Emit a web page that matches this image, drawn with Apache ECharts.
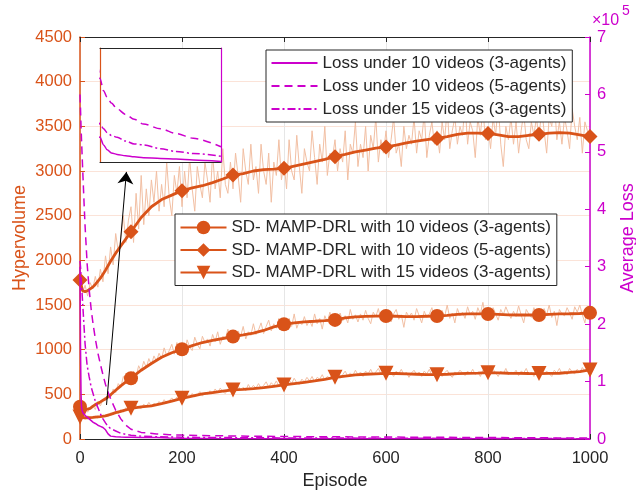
<!DOCTYPE html>
<html><head><meta charset="utf-8">
<script src="https://cdn.jsdelivr.net/npm/echarts@6/dist/echarts.min.js"></script>
<style>html,body{margin:0;padding:0;background:#fff}#c{width:636px;height:491px}</style>
</head><body><div id="c"></div><script>
// ---------- data ----------
const xTicks = [0, 200, 400, 600, 800, 1000];
const hvTicks = [0, 500, 1000, 1500, 2000, 2500, 3000, 3500, 4000, 4500];
const lossTicks = [0, 1, 2, 3, 4, 5, 6, 7];

const nameHv3_10 = 'SD- MAMP-DRL with 10 videos (3-agents)';
const nameHv5_10 = 'SD- MAMP-DRL with 10 videos (5-agents)';
const nameHv3_15 = 'SD- MAMP-DRL with 15 videos (3-agents)';
const nameLoss3_10 = 'Loss under 10 videos (3-agents)';
const nameLoss5_10 = 'Loss under 10 videos (5-agents)';
const nameLoss3_15 = 'Loss under 15 videos (3-agents)';

// smoothed hypervolume curves
const smoothEpisodes = [0,5,10,15,20,25,30,40,50,60,70,80,90,100,
  120,140,160,180,200,220,240,260,280,300,320,340,360,380,400,420,440,460,480,500,
  520,540,560,580,600,620,640,660,680,700,720,740,760,780,800,820,840,860,880,900,
  920,940,960,980,1000];
const hv5_10 = [1780,1660,1650,1660,1680,1700,1730,1800,1890,1990,2080,2160,2240,2320,
  2480,2600,2680,2730,2780,2810,2835,2870,2910,2955,2970,3000,3015,3020,3030,3055,3080,3105,3130,3160,
  3185,3215,3235,3255,3270,3290,3315,3335,3350,3365,3385,3410,3425,3425,3420,3405,3385,3385,3400,3410,
  3425,3430,3425,3405,3385];
const hv3_10 = [362,345,338,335,343,365,385,415,450,495,545,595,640,680,
  770,845,915,965,1004,1045,1080,1105,1125,1146,1165,1185,1215,1255,1284,1300,1312,1318,1325,1333,
  1355,1368,1372,1375,1377,1374,1370,1370,1374,1377,1385,1395,1400,1400,1400,1395,1390,1388,1388,1388,
  1395,1400,1402,1405,1412];
const hv3_15 = [245,240,238,238,240,242,245,250,260,275,295,310,325,343,
  360,372,395,425,455,480,505,520,535,549,555,563,575,590,605,620,635,650,668,690,
  705,717,725,730,735,733,730,725,720,720,725,732,735,738,742,740,736,735,733,732,
  734,736,745,755,773];

// raw (per-episode, sampled every 5 episodes) hypervolume traces
const rawEpisodes = [];
for (let e = 0; e <= 1000; e += 5) rawEpisodes.push(e);
const raw5_10 = [
  1780,1640,1720,1600,1750,1680,1820,1700,1900,1760,
  2050,1850,2150,1950,2300,2100,2250,2500,2200,2450,
  2600,2200,2750,2350,2950,2400,2800,2500,2900,2650,
  3000,2550,2850,2600,3100,2700,2500,2950,2750,3050,
  2600,3000,2700,3150,2800,2550,3050,2850,2700,3100,
  2900,2650,3200,2800,3000,2700,3250,2850,2750,3100,
  2800,3200,2950,2650,3250,3000,2850,3300,2900,3050,
  2750,3300,3000,2850,3200,2650,3100,2950,3350,2900,
  3100,2800,3350,3000,2900,3400,3050,2750,3250,3100,
  3000,3450,3150,2850,3300,3100,3500,2950,3200,3150,
  3350,3000,3250,3100,3450,2900,3300,3200,3550,3050,
  3300,3150,3500,3000,3400,3250,3600,3100,3350,3200,
  3450,3150,3350,3600,3200,3300,3050,3500,3250,3400,
  3300,3600,3200,3450,3350,3650,3150,3400,3550,3300,
  3450,3200,3550,3350,3700,3250,3450,3600,3300,3500,
  3400,3750,3300,3550,3450,3150,3600,3400,3700,3350,
  3500,3250,3600,3400,3750,3300,3050,3500,3350,3600,
  3300,3550,3200,3450,3650,3350,3250,3550,3400,3600,
  3350,3700,3450,3200,3600,3500,3800,3350,3550,3300,
  3600,3450,3250,3700,3500,3350,3600,3200,3550,3450,
  3350];
const raw3_10 = [
  380,330,360,300,350,380,330,420,370,440,
  430,500,470,560,520,620,580,700,640,720,
  650,760,700,820,760,870,800,900,830,930,
  870,960,900,1020,930,990,1060,950,1080,1000,
  1050,960,1110,1030,990,1140,1060,1010,1150,1080,
  1120,1040,1170,1090,1200,1060,1150,1120,1230,1100,
  1180,1090,1210,1150,1260,1120,1200,1160,1290,1170,
  1220,1300,1180,1260,1330,1210,1290,1240,1350,1250,
  1300,1220,1350,1260,1400,1240,1320,1280,1370,1270,
  1330,1260,1400,1290,1350,1230,1380,1310,1420,1290,
  1350,1280,1410,1320,1380,1300,1450,1340,1390,1310,
  1400,1330,1440,1350,1290,1420,1370,1460,1330,1400,
  1360,1430,1310,1400,1450,1340,1390,1250,1420,1370,
  1410,1330,1460,1380,1300,1430,1360,1400,1470,1350,
  1390,1320,1440,1370,1500,1350,1410,1300,1460,1380,
  1420,1350,1480,1390,1430,1340,1470,1400,1530,1370,
  1420,1360,1470,1400,1330,1450,1390,1480,1410,1350,
  1430,1370,1490,1390,1300,1450,1400,1360,1470,1380,
  1420,1330,1460,1390,1500,1360,1430,1270,1450,1400,
  1380,1470,1410,1340,1480,1420,1500,1390,1300,1460,
  1420];
const raw3_15 = [
  230,250,220,260,240,230,255,235,260,245,
  270,250,290,270,310,285,330,300,350,320,
  360,330,380,350,340,390,360,410,370,400,
  380,420,390,440,400,430,460,420,470,440,
  480,440,500,460,510,470,490,530,480,520,
  500,540,510,560,520,570,530,510,560,540,
  570,530,590,550,580,540,610,560,600,570,
  620,570,600,640,580,630,600,650,590,620,
  640,600,660,620,680,630,610,670,640,690,
  650,700,640,690,670,720,660,700,680,730,
  690,740,680,720,760,700,740,710,770,720,
  750,700,760,730,780,720,750,790,730,760,
  720,770,740,700,760,730,780,720,750,690,
  740,770,720,750,700,760,730,780,710,750,
  720,760,700,740,770,720,690,750,730,770,
  740,710,760,730,780,720,750,700,770,740,
  760,720,780,740,700,760,730,790,720,750,
  730,770,710,760,740,790,720,750,700,760,
  740,780,720,760,730,700,770,740,790,730,
  760,720,790,750,730,780,740,800,760,790,
  780];

// average loss (x10^5)
const lossEpisodes = [0,1,2,3,5,8,10,14,18,22,26,30,35,40,45,50,55,60,70,80,90,100,
  120,150,175,200,230,270,330,390,455,575,685,805,1000];
const loss5_10 = [6.0,5.75,5.45,5.2,4.75,4.1,3.7,3.05,2.6,2.25,1.98,1.75,1.5,1.3,1.12,0.95,0.82,0.7,0.5,0.35,0.24,0.17,
  0.115,0.088,0.075,0.068,0.062,0.056,0.05,0.045,0.04,0.035,0.03,0.025,0.016];
const loss3_15 = [3.1,3.0,2.85,2.7,2.4,1.95,1.65,1.28,1.08,0.9,0.78,0.66,0.55,0.44,0.35,0.28,0.22,0.18,0.14,0.1,0.08,0.065,
  0.05,0.04,0.035,0.031,0.028,0.026,0.022,0.019,0.018,0.014,0.011,0.009,0.006];
const loss3_10 = [3.0,1.6,0.8,0.55,0.47,0.43,0.41,0.38,0.35,0.32,0.29,0.27,0.24,0.22,0.2,0.16,0.09,0.05,0.038,0.034,0.031,0.03,
  0.028,0.026,0.018,0.013,0.0096,0.008,0.0065,0.0054,0.0045,0.0038,0.0031,0.0022,0.0006];

// inset (zoomed loss view) ranges
const insetEpisodeRange = [150, 1000];
const insetLossRange = [0, 0.12];

// annotation arrow (episode, hypervolume)
const arrowFrom = [52, 381];
const arrowTo = [91, 2990];

// ---------- styling ----------
const ORANGE = '#D95319';
const RAW = '#F2BFA3';
const MAG = '#CC00CC';
const DARK = '#262626';
const FONT = 'Liberation Sans, Arial, Helvetica, sans-serif';

const pairs = (xs, ys) => xs.map((x, i) => [x, ys[i]]);
const markerSize = s => (v => (v[0] % 100 === 0 ? s : 0));
const plain = v => String(v);

const chart = echarts.init(document.getElementById('c'), null, {renderer: 'canvas'});

function rawSeries(data) {
  return {type: 'line', xAxisIndex: 0, yAxisIndex: 0, data: data, symbol: 'none', silent: true,
    lineStyle: {color: RAW, width: 1}, z: 1, animation: false};
}
function hvSeries(name, data, symbol, size, rot, extra) {
  return Object.assign({type: 'line', name: name, xAxisIndex: 0, yAxisIndex: 0, data: data,
    symbol: symbol, symbolSize: markerSize(size), symbolRotate: rot, showAllSymbol: true,
    itemStyle: {color: ORANGE}, lineStyle: {color: ORANGE, width: 2.8}, z: 3, silent: true, animation: false}, extra || {});
}
function lossSeries(name, data, dash, xi, yi, z, smooth) {
  return {type: 'line', name: name, xAxisIndex: xi, yAxisIndex: yi, data: data, symbol: 'none',
    smooth: smooth, smoothMonotone: 'x', clip: true,
    itemStyle: {color: MAG}, lineStyle: {color: MAG, width: 1.5, type: dash}, z: z, silent: true, animation: false};
}

const DASH = [8, 5];
const DASHDOT = [8, 3, 2, 3];

const option = {
  animation: false,
  backgroundColor: '#fff',
  textStyle: {fontFamily: FONT},
  grid: [
    {left: 80, top: 37, width: 510, height: 402, containLabel: false, outerBoundsMode: 'none'},
    {left: 100, top: 48, width: 121, height: 114, containLabel: false, outerBoundsMode: 'none'}
  ],
  xAxis: [
    {type: 'value', gridIndex: 0, min: 0, max: 1000, interval: 200, position: 'bottom',
      name: 'Episode', nameLocation: 'middle', nameGap: 33, nameMoveOverlap: false,
      nameTextStyle: {color: DARK, fontSize: 18, fontFamily: FONT},
      axisLine: {onZero: false, lineStyle: {color: DARK, width: 1}},
      axisTick: {inside: true, length: 5, lineStyle: {color: DARK}},
      axisLabel: {color: DARK, fontSize: 16.5, margin: 11, fontFamily: FONT, formatter: plain},
      splitLine: {show: true, lineStyle: {color: '#E6E6E6', width: 1}}},
    {type: 'value', gridIndex: 0, min: 0, max: 1000, interval: 200, position: 'top',
      axisLine: {onZero: false, lineStyle: {color: DARK, width: 1}},
      axisTick: {inside: true, length: 5, lineStyle: {color: DARK}},
      axisLabel: {show: false}, splitLine: {show: false}},
    {type: 'value', gridIndex: 1, min: insetEpisodeRange[0], max: insetEpisodeRange[1], position: 'bottom', z: 6,
      axisLine: {onZero: false, lineStyle: {color: DARK, width: 1}},
      axisTick: {show: false}, axisLabel: {show: false}, splitLine: {show: false}},
    {type: 'value', gridIndex: 1, min: insetEpisodeRange[0], max: insetEpisodeRange[1], position: 'top', z: 6,
      axisLine: {onZero: false, lineStyle: {color: DARK, width: 1}},
      axisTick: {show: false}, axisLabel: {show: false}, splitLine: {show: false}}
  ],
  yAxis: [
    {type: 'value', gridIndex: 0, min: 0, max: 4500, interval: 500, position: 'left',
      name: 'Hypervolume', nameLocation: 'middle', nameGap: 51, nameRotate: 90, nameMoveOverlap: false,
      nameTextStyle: {color: ORANGE, fontSize: 18, fontFamily: FONT},
      axisLine: {show: true, onZero: false, lineStyle: {color: ORANGE, width: 1.5}},
      axisTick: {show: true, inside: true, length: 5, lineStyle: {color: ORANGE}},
      axisLabel: {color: ORANGE, fontSize: 16.5, margin: 8, fontFamily: FONT, formatter: plain},
      splitLine: {show: true, lineStyle: {color: '#FBE3D8', width: 1}}},
    {type: 'value', gridIndex: 0, min: 0, max: 7, interval: 1, position: 'right',
      name: 'Average Loss', nameLocation: 'middle', nameGap: 29, nameRotate: 90,
      nameTextStyle: {color: MAG, fontSize: 18, fontFamily: FONT},
      axisLine: {show: true, onZero: false, lineStyle: {color: MAG, width: 1.5}},
      axisTick: {show: true, inside: true, length: 5, lineStyle: {color: MAG}},
      axisLabel: {color: MAG, fontSize: 16.5, margin: 7, fontFamily: FONT, formatter: plain},
      splitLine: {show: false}},
    {type: 'value', gridIndex: 1, min: insetLossRange[0], max: insetLossRange[1], position: 'left', z: 6,
      axisLine: {show: true, onZero: false, lineStyle: {color: ORANGE, width: 1.2}},
      axisTick: {show: false}, axisLabel: {show: false}, splitLine: {show: false}},
    {type: 'value', gridIndex: 1, min: insetLossRange[0], max: insetLossRange[1], position: 'right', z: 6,
      axisLine: {show: true, onZero: false, lineStyle: {color: MAG, width: 1.2}},
      axisTick: {show: false}, axisLabel: {show: false}, splitLine: {show: false}}
  ],
  legend: [
    {data: [nameLoss3_10, nameLoss5_10, nameLoss3_15].map(n => ({name: n, itemStyle: {color: 'rgba(0,0,0,0)', borderWidth: 0, opacity: 0}})),
      orient: 'vertical', left: 266, top: 50, padding: [4.5, 6, 4.5, 4.5], itemGap: 6,
      itemWidth: 46, itemHeight: 16, selectedMode: false, z: 10,
      backgroundColor: '#fff', borderColor: DARK, borderWidth: 1,
      textStyle: {color: DARK, fontSize: 17, fontFamily: FONT, lineHeight: 17}},
    {data: [nameHv3_10, nameHv5_10, nameHv3_15],
      orient: 'vertical', left: 175, top: 214, padding: [5, 6, 4.5, 4.5], itemGap: 5.5,
      itemWidth: 46, itemHeight: 17, selectedMode: false, z: 10,
      backgroundColor: '#fff', borderColor: DARK, borderWidth: 1,
      textStyle: {color: DARK, fontSize: 17, fontFamily: FONT, lineHeight: 17}}
  ],
  graphic: [
    {type: 'rect', shape: {x: 100, y: 48, width: 121, height: 114}, style: {fill: '#fff'}, z: 5, silent: true},
    {type: 'text', left: 592, top: 13, z: 10, silent: true,
      style: {text: '\u00d710', fill: MAG, font: '16px ' + FONT}},
    {type: 'text', left: 622, top: 4, z: 10, silent: true,
      style: {text: '5', fill: MAG, font: '14px ' + FONT}}
  ],
  series: [
    rawSeries(pairs(rawEpisodes, raw5_10)),
    rawSeries(pairs(rawEpisodes, raw3_10)),
    rawSeries(pairs(rawEpisodes, raw3_15)),
    lossSeries(nameLoss3_10, pairs(lossEpisodes, loss3_10), 'solid', 0, 1, 4, false),
    lossSeries(nameLoss5_10, pairs(lossEpisodes, loss5_10), DASH, 0, 1, 4, false),
    lossSeries(nameLoss3_15, pairs(lossEpisodes, loss3_15), DASHDOT, 0, 1, 4, false),
    hvSeries(nameHv3_10, pairs(smoothEpisodes, hv3_10), 'circle', 14, 0, {
      markLine: {silent: true, animation: false, symbol: ['none', 'arrow'], symbolSize: 12,
        lineStyle: {color: '#000', width: 1, type: 'solid'}, label: {show: false},
        emphasis: {disabled: true},
        data: [[{coord: arrowFrom}, {coord: arrowTo}]]}
    }),
    hvSeries(nameHv5_10, pairs(smoothEpisodes, hv5_10), 'diamond', 15, 0),
    hvSeries(nameHv3_15, pairs(smoothEpisodes, hv3_15), 'triangle', 15, 180),
    lossSeries(nameLoss3_10, pairs(lossEpisodes, loss3_10), 'solid', 2, 2, 7, 0.3),
    lossSeries(nameLoss5_10, pairs(lossEpisodes, loss5_10), DASH, 2, 2, 7, 0.3),
    lossSeries(nameLoss3_15, pairs(lossEpisodes, loss3_15), DASHDOT, 2, 2, 7, 0.3)
  ]
};
chart.setOption(option);
</script></body></html>
